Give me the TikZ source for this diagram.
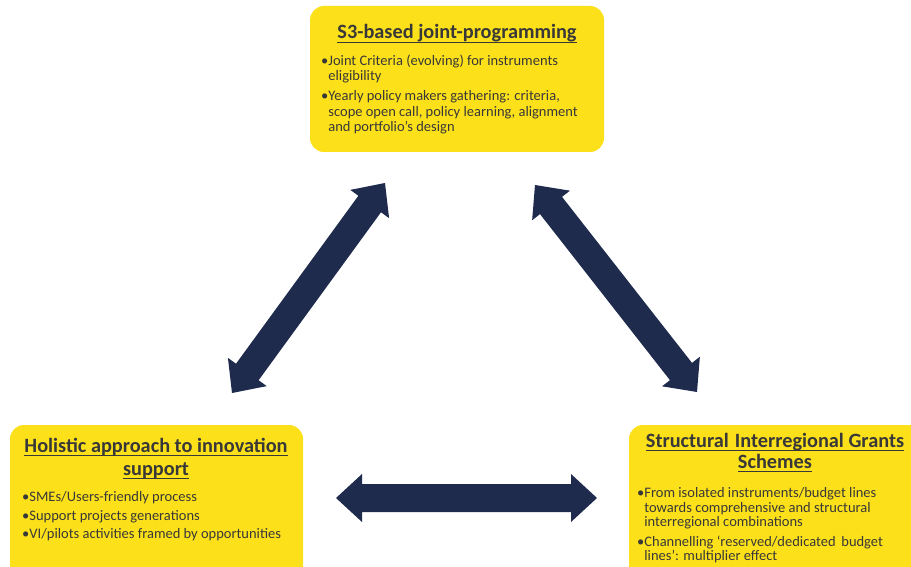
\documentclass[tikz,border=0pt]{standalone}
\usepackage{fontspec}
\setmainfont{Carlito}
\usetikzlibrary{calc}
\definecolor{boxyellow}{HTML}{FCE01A}
\definecolor{navy}{HTML}{1F2B4D}
\definecolor{txt}{HTML}{383838}
\newcommand{\dblarrow}[2]{%
  \coordinate (a1) at ($(#1)!26pt!(#2)$);
  \coordinate (b1) at ($(#2)!26pt!(#1)$);
  \fill[navy] (#1) -- ($(a1)!24pt!90:(#2)$) -- ($(a1)!14pt!90:(#2)$)
    -- ($(b1)!14pt!-90:(#1)$) -- ($(b1)!24pt!-90:(#1)$) -- (#2)
    -- ($(b1)!24pt!90:(#1)$) -- ($(b1)!14pt!90:(#1)$)
    -- ($(a1)!14pt!-90:(#2)$) -- ($(a1)!24pt!-90:(#2)$) -- cycle;}
\tikzset{
  box/.style={fill=boxyellow, rounded corners=14pt, inner sep=0pt, draw=none},
  ttl/.style={font=\fontsize{20.3}{24}\selectfont\bfseries, text=txt, anchor=base, inner sep=0pt},
  body/.style={font=\fontsize{14.5}{17}\selectfont, text=txt, anchor=base west, inner sep=0pt},
  uline/.style={draw=txt, line width=1.3pt}
}
\newcommand{\ul}[1]{\draw[uline] ($(#1.base west)+(0,3.2)$) -- ($(#1.base east)+(0,3.2)$);}
\begin{document}
\begin{tikzpicture}[x=1pt,y=-1pt]
\useasboundingbox (0,0) rectangle (911,567);
\clip (0,0) rectangle (911,567);
% boxes
\node[box, minimum width=294pt, minimum height=146pt] (top) at (457,79) {};
\node[box, minimum width=293pt, minimum height=160pt] (left) at (156.5,505) {};
\node[box, minimum width=311pt, minimum height=160pt] (right) at (784.5,505) {};
% top box text
\node[ttl] (tt) at (457,39) {S3-based joint-programming};
\ul{tt}
\node[body] (t1) at (321,66) {•Joint Criteria (evolving) for instruments};
\node[body] (t2) at (321,81) {\phantom{•}eligibility};
\node[body] (t3) at (321,101) {•Yearly policy makers gathering: criteria,};
\node[body] (t4) at (321,117) {\phantom{•}scope open call, policy learning, alignment};
\node[body] (t5) at (321,132) {\phantom{•}and portfolio’s design};
% left box text
\node[ttl] (lt1) at (156,452) {Holistic approach to innovation};
\ul{lt1}
\node[ttl] (lt2) at (156,475) {support};
\ul{lt2}
\node[body] (l1) at (22,501) {•SMEs/Users-friendly process};
\node[body] (l2) at (22,520) {•Support projects generations};
\node[body] (l3) at (22,538) {•VI/pilots activities framed by opportunities};
% right box text
\node[ttl] (rt1) at (775,447) {Structural\hspace{0.3em}Interregional Grants};
\ul{rt1}
\node[ttl] (rt2) at (775,468) {Schemes};
\ul{rt2}
\node[body] (r1) at (637,497) {•From isolated instruments/budget lines};
\node[body] (r2) at (637,512) {\phantom{•}towards comprehensive and structural};
\node[body] (r3) at (637,526) {\phantom{•}interregional combinations};
\node[body] (r4) at (637,546) {•Channelling ‘reserved/dedicated\hspace{0.4em}budget};
\node[body] (r5) at (637,560) {\phantom{•}lines’: multiplier effect};
% arrows
\coordinate (L1) at (232,393);
\coordinate (L2) at (385,183);
\coordinate (R1) at (535,185);
\coordinate (R2) at (697,392);
\coordinate (H1) at (336,498);
\coordinate (H2) at (597,498);
\dblarrow{L1}{L2}
\dblarrow{R1}{R2}
\dblarrow{H1}{H2}
\end{tikzpicture}
\end{document}
